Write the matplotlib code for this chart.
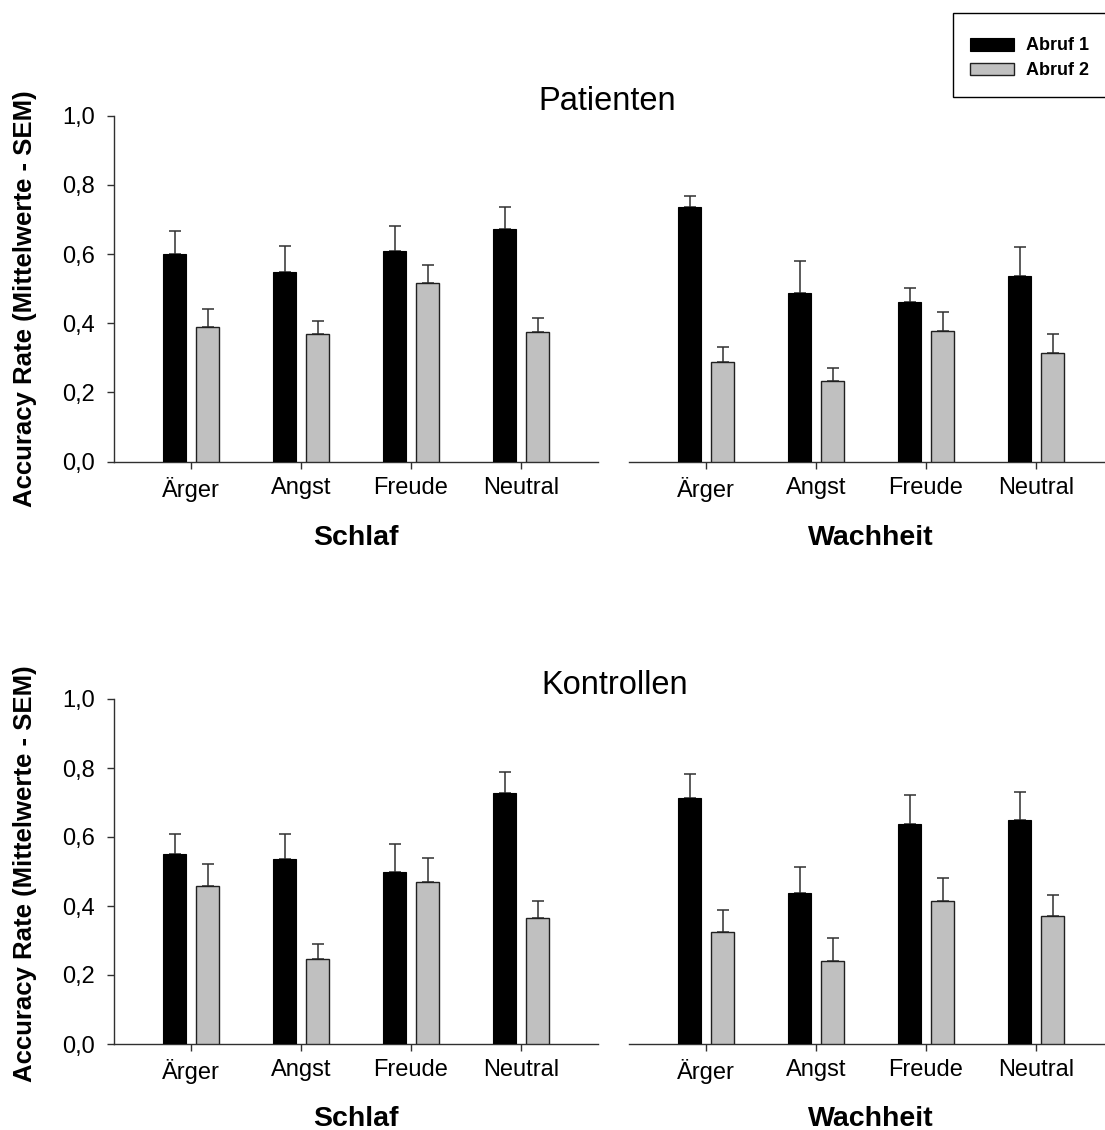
import matplotlib
matplotlib.use("Agg")
import matplotlib.pyplot as plt
from matplotlib.patches import Rectangle
import numpy as np

plt.rcParams['font.family'] = ['Liberation Sans', 'DejaVu Sans']

# ---------------- data ----------------
categories = ['Ärger', 'Angst', 'Freude', 'Neutral']
conditions = ['Schlaf', 'Wachheit']
groups = ['Patienten', 'Kontrollen']
series_names = ['Abruf 1', 'Abruf 2']
yticks = [0.0, 0.2, 0.4, 0.6, 0.8, 1.0]
ytick_labels = ['0,0', '0,2', '0,4', '0,6', '0,8', '1,0']
ylabel = 'Accuracy Rate (Mittelwerte - SEM)'

# Patienten - Schlaf
pat_schlaf_abruf1 = [0.599, 0.548, 0.609, 0.673]
pat_schlaf_abruf1_sem = [0.067, 0.074, 0.073, 0.064]
pat_schlaf_abruf2 = [0.388, 0.368, 0.517, 0.376]
pat_schlaf_abruf2_sem = [0.054, 0.040, 0.051, 0.039]
# Patienten - Wachheit
pat_wach_abruf1 = [0.736, 0.488, 0.461, 0.536]
pat_wach_abruf1_sem = [0.031, 0.092, 0.042, 0.085]
pat_wach_abruf2 = [0.288, 0.233, 0.379, 0.315]
pat_wach_abruf2_sem = [0.044, 0.038, 0.055, 0.054]
# Kontrollen - Schlaf
kon_schlaf_abruf1 = [0.551, 0.536, 0.500, 0.727]
kon_schlaf_abruf1_sem = [0.059, 0.074, 0.080, 0.060]
kon_schlaf_abruf2 = [0.458, 0.247, 0.469, 0.366]
kon_schlaf_abruf2_sem = [0.065, 0.044, 0.070, 0.048]
# Kontrollen - Wachheit
kon_wach_abruf1 = [0.712, 0.437, 0.638, 0.649]
kon_wach_abruf1_sem = [0.072, 0.076, 0.085, 0.081]
kon_wach_abruf2 = [0.326, 0.241, 0.414, 0.370]
kon_wach_abruf2_sem = [0.061, 0.065, 0.068, 0.061]

# ---------------- layout ----------------
W, H = 1105, 1130
fig = plt.figure(figsize=(W / 100, H / 100), dpi=100)


def px_axes(left, top, right, bottom):
    return fig.add_axes([left / W, 1 - bottom / H, (right - left) / W, (bottom - top) / H])


panels = [
    (px_axes(114, 115.7, 598, 461.7), pat_schlaf_abruf1, pat_schlaf_abruf1_sem,
     pat_schlaf_abruf2, pat_schlaf_abruf2_sem, conditions[0], True),
    (px_axes(629, 115.7, 1113, 461.7), pat_wach_abruf1, pat_wach_abruf1_sem,
     pat_wach_abruf2, pat_wach_abruf2_sem, conditions[1], False),
    (px_axes(114, 699, 598, 1044), kon_schlaf_abruf1, kon_schlaf_abruf1_sem,
     kon_schlaf_abruf2, kon_schlaf_abruf2_sem, conditions[0], True),
    (px_axes(629, 699, 1113, 1044), kon_wach_abruf1, kon_wach_abruf1_sem,
     kon_wach_abruf2, kon_wach_abruf2_sem, conditions[1], False),
]

x = np.arange(1, len(categories) + 1)
bw = 0.212
off = 0.15
axis_col = '#303030'
handles = None

for i, (ax, a1, s1, a2, s2, cond, show_y) in enumerate(panels):
    b1 = ax.bar(x - off, a1, width=bw, color='black', edgecolor='black', linewidth=0.8,
                label=series_names[0], zorder=3)
    b2 = ax.bar(x + off, a2, width=bw, color='#c0c0c0', edgecolor='#202020', linewidth=1.0,
                label=series_names[1], zorder=3)
    ax.errorbar(x - off, a1, yerr=[np.zeros(len(a1)), s1], fmt='none', ecolor='#303030',
                elinewidth=1.1, capsize=4.3, capthick=1.1, zorder=2)
    ax.errorbar(x + off, a2, yerr=[np.zeros(len(a2)), s2], fmt='none', ecolor='#303030',
                elinewidth=1.1, capsize=4.3, capthick=1.1, zorder=2)
    if handles is None:
        handles = [b1, b2]

    ax.set_xlim(0.3, 4.7)
    ax.set_ylim(0, 1.0)
    ax.set_xticks(x)
    ax.set_xticklabels(categories)
    for s in ['top', 'right']:
        ax.spines[s].set_visible(False)
    for s in ['left', 'bottom']:
        ax.spines[s].set_color(axis_col)
        ax.spines[s].set_linewidth(1.0)
    ax.tick_params(axis='x', direction='out', length=5, width=1, color=axis_col,
                   labelsize=17, pad=6)
    if show_y:
        ax.set_yticks(yticks)
        ax.set_yticklabels(ytick_labels)
        ax.tick_params(axis='y', direction='out', length=5, width=1, color=axis_col,
                       labelsize=17, pad=8.5)
        ax.set_ylabel(ylabel, fontsize=18.5, fontweight='bold')
        ax.yaxis.set_label_coords(-0.184, 0.472 if i == 0 else 0.494)
        ax.yaxis.label.set_va('center')
    else:
        ax.spines['left'].set_visible(False)
        ax.set_yticks([])
    ax.set_xlabel(cond, fontsize=20.5, fontweight='bold', va='center')
    ax.xaxis.set_label_coords(0.5, -0.2205 if i < 2 else -0.2175)

fig.text(607 / W, 1 - 101 / H, groups[0], fontsize=23.5, ha='center', va='center')
fig.text(615 / W, 1 - 686 / H, groups[1], fontsize=23.5, ha='center', va='center')

# legend box (frame) and legend entries
box_l, box_t, box_r, box_b = 953, 13, 1112, 97
fig.add_artist(Rectangle((box_l / W, 1 - box_b / H), (box_r - box_l) / W, (box_b - box_t) / H,
                         transform=fig.transFigure, facecolor='white', edgecolor='black',
                         linewidth=1.0, zorder=5))
leg = fig.legend(handles, series_names, loc='upper left',
                 bbox_to_anchor=(970 / W, 1 - 37.5 / H), borderaxespad=0,
                 frameon=False, prop=dict(weight='bold', size=13),
                 handlelength=2.44, handleheight=0.72, handletextpad=0.67,
                 borderpad=0, labelspacing=0.43)
leg.set_zorder(6)

fig.savefig('out.png', dpi=100)
